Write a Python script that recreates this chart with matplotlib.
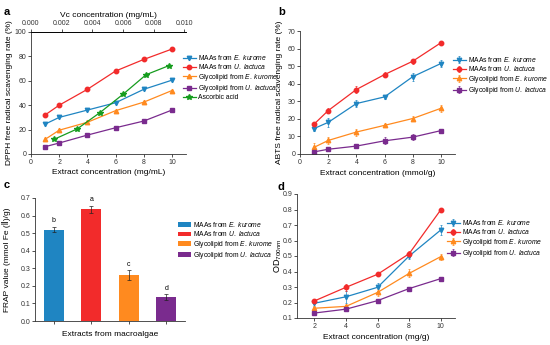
import numpy as np
import matplotlib
matplotlib.use('Agg')
import matplotlib.pyplot as plt

plt.rcParams['font.family'] = ['Liberation Sans', 'DejaVu Sans']
plt.rcParams['mathtext.fontset'] = 'custom'
plt.rcParams['mathtext.rm'] = 'Liberation Sans'
plt.rcParams['mathtext.it'] = 'Liberation Sans:italic'
plt.rcParams['mathtext.bf'] = 'Liberation Sans:bold'

BLUE = '#1f85c2'
RED = '#f22b2b'
ORANGE = '#ff8a1f'
PURPLE = '#7a2b8e'
GREEN = '#169c1e'

SERIES = ['MAAs from $\\mathit{E.\\ kurome}$', 'MAAs from $\\mathit{U.\\ lactuca}$',
          'Glycolipid from $\\mathit{E.\\ kurome}$', 'Glycolipid from $\\mathit{U.\\ lactuca}$']
COLORS = [BLUE, RED, ORANGE, PURPLE]
MARKERS = ['v', 'o', '^', 's']

# panel a: DPPH
dpph_x = [1, 2, 4, 6, 8, 10]
dpph = [
    [24.5, 30, 36, 42, 53, 60.5],
    [32, 40, 53, 68, 77.5, 86],
    [12, 19.5, 26, 35.5, 42.5, 52],
    [6, 9, 15.5, 21.5, 27, 36],
]
vc_x = [0.0015, 0.003, 0.0045, 0.006, 0.0075, 0.009]
vc_y = [12, 20.5, 34, 49, 65, 72.5]

# panel b: ABTS
abts_x = [1, 2, 4, 6, 8, 10]
abts = [
    [14.5, 18, 28.7, 32.5, 44, 51.5],
    [17, 24.7, 36.7, 45.2, 52.8, 63.3],
    [3.8, 7.7, 12.5, 16.3, 20.2, 26],
    [1.2, 2.7, 4.5, 7.5, 9.6, 13.3],
]
abts_err = [
    [1.2, 2.5, 2, 1.2, 2.2, 1.8],
    [1, 1.5, 1.8, 1.2, 1.5, 1.2],
    [2.2, 1.8, 2, 1, 1.5, 2],
    [1, 1, 1, 2, 1.5, 1.2],
]

# panel c: FRAP
frap = [0.52, 0.635, 0.262, 0.135]
frap_err = [0.015, 0.022, 0.027, 0.017]
frap_letters = ['b', 'a', 'c', 'd']

# panel d: reducing power
od_x = [2, 4, 6, 8, 10]
od = [
    [0.195, 0.237, 0.298, 0.5, 0.668],
    [0.21, 0.298, 0.382, 0.515, 0.798],
    [0.163, 0.175, 0.265, 0.388, 0.496],
    [0.132, 0.157, 0.212, 0.29, 0.354],
]
od_err = [
    [0.015, 0.04, 0.025, 0.02, 0.03],
    [0.01, 0.022, 0.005, 0.02, 0.012],
    [0.01, 0.01, 0.02, 0.025, 0.02],
    [0.005, 0.005, 0.005, 0.005, 0.005],
]

FS_LAB = 6
FS_TICK = 5
FS_LEG = 4.9
LW = 0.9
MS = 3.2
LEG_KW = dict(fontsize=FS_LEG, frameon=False, handlelength=1.9, labelspacing=0.05,
              handletextpad=0.3, borderaxespad=0, borderpad=0)


def style(ax):
    for s in ['top', 'right']:
        ax.spines[s].set_visible(False)
    for s in ['left', 'bottom']:
        ax.spines[s].set_linewidth(0.6)
        ax.spines[s].set_color('#333333')
    ax.tick_params(labelsize=FS_TICK, width=0.6, length=2, pad=1.5, colors='#333333')


fig = plt.figure(figsize=(5.5, 3.45), dpi=100)

# ---- a
ax = fig.add_axes([31 / 550, 1 - 154 / 345, 155 / 550, 122 / 345])
style(ax)
ax.spines['top'].set_visible(True)
ax.spines['top'].set_linewidth(0.6)
handles = []
for ys, c, m, lab in zip(dpph, COLORS, MARKERS, SERIES):
    h, = ax.plot(dpph_x, ys, color=c, marker=m, ms=MS, lw=LW, label=lab)
    handles.append(h)
ax.set_xlim(0, 11)
ax.set_ylim(0, 100)
ax.set_xticks([0, 2, 4, 6, 8, 10])
ax.set_yticks([0, 20, 40, 60, 80, 100])
ax.set_xlabel('Extract concentration (mg/mL)', fontsize=FS_LAB, labelpad=2)
ax.set_ylabel('DPPH free radical scavenging rate (%)', fontsize=FS_LAB)
ax.yaxis.set_label_coords(-0.115, 0.5)
ax2 = ax.twiny()
for s in ['right', 'left', 'bottom']:
    ax2.spines[s].set_visible(False)
ax2.spines['top'].set_linewidth(0.6)
ax2.tick_params(labelsize=FS_TICK, width=0.6, length=2, pad=1.5, colors='#333333')
h, = ax2.plot(vc_x, vc_y, color=GREEN, marker='*', ms=MS + 1, lw=LW, label='Ascorbic acid')
handles.append(h)
ax2.set_xlim(0, 0.0101)
ax2.set_xticks([0, 0.002, 0.004, 0.006, 0.008, 0.010])
ax2.set_xticklabels(['0.000', '0.002', '0.004', '0.006', '0.008', '0.010'])
ax2.set_xlabel('Vc concentration (mg/mL)', fontsize=FS_LAB, labelpad=2)
fig.legend(handles=handles, loc='upper left', bbox_to_anchor=(183 / 550, 1 - 53 / 345), **LEG_KW)
fig.text(4 / 550, 1 - 12 / 345, 'a', fontsize=8, fontweight='bold', va='center')

# ---- b
ax = fig.add_axes([300 / 550, 1 - 154 / 345, 155 / 550, 123 / 345])
style(ax)
for ys, es, c, m, lab in zip(abts, abts_err, COLORS, MARKERS, SERIES):
    ax.errorbar(abts_x, ys, yerr=es, color=c, marker=m, ms=MS, lw=LW, elinewidth=0.5,
                capsize=1, capthick=0.5, label=lab)
ax.set_xlim(0, 11)
ax.set_ylim(0, 70)
ax.set_xticks([0, 2, 4, 6, 8, 10])
ax.set_yticks(range(0, 71, 10))
ax.set_xlabel('Extract concentration (mmol/g)', fontsize=FS_LAB, labelpad=3)
ax.set_ylabel('ABTS free radical scavenging rate (%)', fontsize=FS_LAB)
ax.yaxis.set_label_coords(-0.11, 0.5)
h, l = ax.get_legend_handles_labels()
fig.legend(h, l, loc='upper left', bbox_to_anchor=(453 / 550, 1 - 55 / 345), **LEG_KW)
fig.text(278 / 550, 1 - 12 / 345, 'b', fontsize=8, fontweight='bold', va='center')

# ---- c
ax = fig.add_axes([35 / 550, 1 - 321 / 345, 150 / 550, 123 / 345])
style(ax)
pos = np.arange(1, 5)
bars = ax.bar(pos, frap, width=0.53, color=COLORS, yerr=frap_err,
              error_kw=dict(elinewidth=0.5, capsize=1.2, capthick=0.5, ecolor='#222222'))
for p, v, e, t in zip(pos, frap, frap_err, frap_letters):
    ax.text(p, v + e + 0.015, t, ha='center', va='bottom', fontsize=FS_TICK)
ax.set_xlim(0.5, 4.5)
ax.set_ylim(0, 0.7)
ax.set_xticks(pos)
ax.set_xticklabels([])
ax.set_yticks(np.arange(0, 0.71, 0.1))
ax.set_yticklabels(['%.1f' % v for v in np.arange(0, 0.71, 0.1)])
ax.set_xlabel('Extracts from macroalgae', fontsize=FS_LAB, labelpad=4)
ax.set_ylabel('FRAP value (mmol Fe (Ⅱ)/g)', fontsize=FS_LAB)
ax.yaxis.set_label_coords(-0.16, 0.5)
fig.legend(bars, SERIES, loc='upper left', bbox_to_anchor=(178 / 550, 1 - 220 / 345),
           handleheight=0.7, **LEG_KW)
fig.text(4 / 550, 1 - 185 / 345, 'c', fontsize=8, fontweight='bold', va='center')

# ---- d
ax = fig.add_axes([297 / 550, 1 - 318 / 345, 158 / 550, 124 / 345])
style(ax)
for ys, es, c, m, lab in zip(od, od_err, COLORS, MARKERS, SERIES):
    ax.errorbar(od_x, ys, yerr=es, color=c, marker=m, ms=MS, lw=LW, elinewidth=0.5,
                capsize=1, capthick=0.5, label=lab)
ax.set_xlim(0.9, 10.9)
ax.set_ylim(0.1, 0.9)
ax.set_xticks([2, 4, 6, 8, 10])
ax.set_yticks(np.arange(0.1, 0.91, 0.1))
ax.set_yticklabels(['%.1f' % v for v in np.arange(0.1, 0.91, 0.1)])
ax.set_xlabel('Extract concentration (mg/g)', fontsize=FS_LAB, labelpad=3)
ax.set_ylabel('OD$_{700nm}$', fontsize=FS_LAB + 0.5)
ax.yaxis.set_label_coords(-0.085, 0.5)
h, l = ax.get_legend_handles_labels()
fig.legend(h, l, loc='upper left', bbox_to_anchor=(447 / 550, 1 - 218 / 345), **LEG_KW)
fig.text(278 / 550, 1 - 187 / 345, 'd', fontsize=8, fontweight='bold', va='center')

fig.savefig('out.png', dpi=100, facecolor='white')
